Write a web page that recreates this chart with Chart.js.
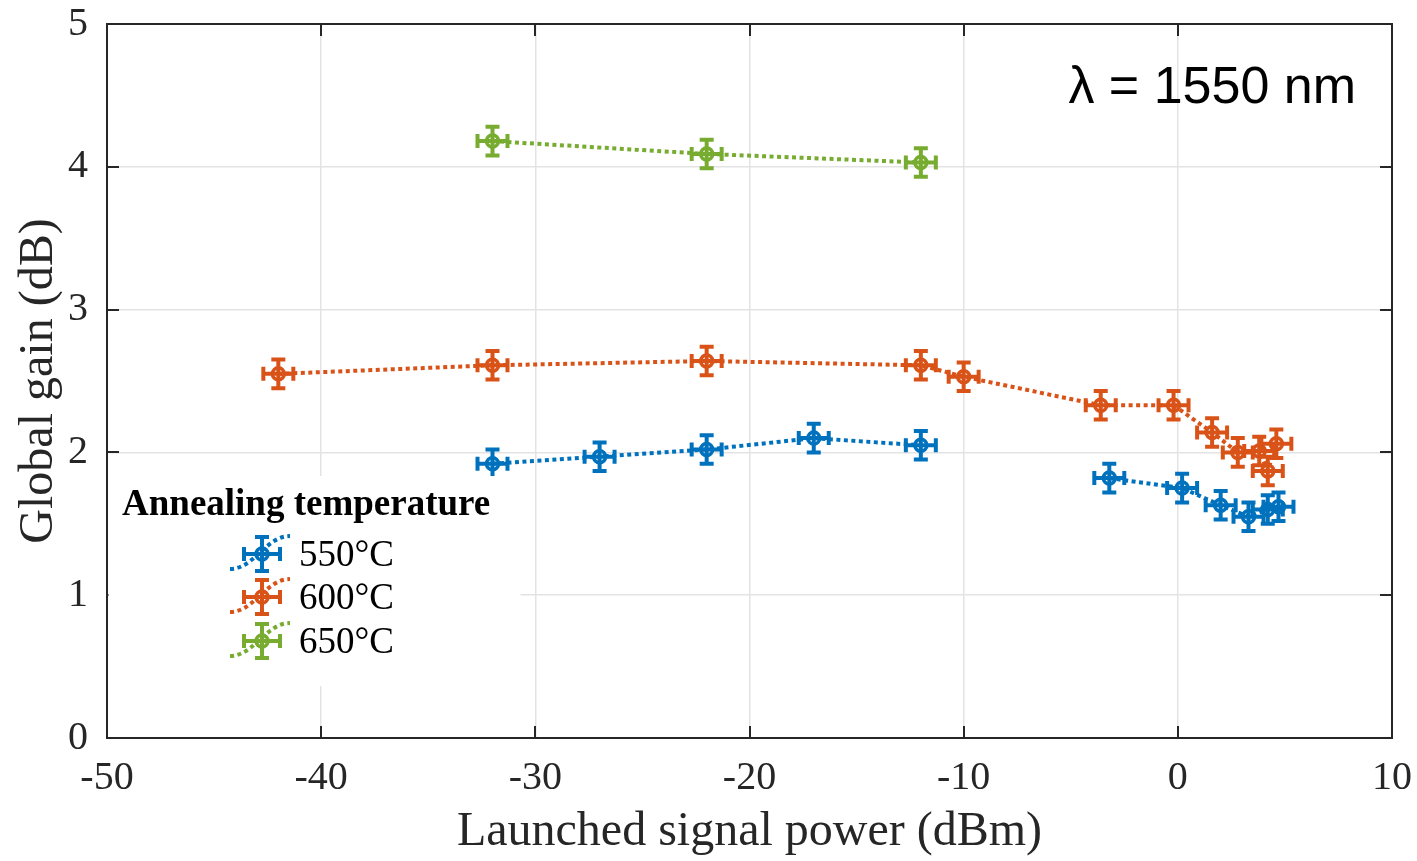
<!DOCTYPE html>
<html>
<head>
<meta charset="utf-8">
<script src="https://cdn.jsdelivr.net/npm/chart.js@4.4.1/dist/chart.umd.min.js"></script>
<style>
html,body{margin:0;padding:0;background:#fff;}
#wrap{width:1417px;height:861px;}
</style>
</head>
<body>
<div id="wrap"><canvas id="c" width="1417" height="861"></canvas></div>
<script>
// ---- data ----
const xTicks = [-50, -40, -30, -20, -10, 0, 10];
const yTicks = [0, 1, 2, 3, 4, 5];
const seriesLabels = ['550°C', '600°C', '650°C'];
const seriesColors = ['#0072BD', '#D95319', '#77AC30'];

const power550 = [-32, -27, -22, -17, -12, -3.2, 0.2, 2.0, 3.3, 4.2, 4.7];
const gain550  = [1.92, 1.97, 2.02, 2.10, 2.05, 1.82, 1.75, 1.63, 1.55, 1.60, 1.62];
const gaps550  = [4]; // no line drawn after this point index

const power600 = [-42, -32, -22, -12, -10, -3.6, -0.2, 1.6, 2.8, 3.8, 4.2, 4.6];
const gain600  = [2.55, 2.61, 2.64, 2.61, 2.53, 2.33, 2.33, 2.14, 2.00, 2.01, 1.87, 2.06];

const power650 = [-32, -22, -12];
const gain650  = [4.18, 4.09, 4.03];

const powerErr = 0.7;  // dBm
const gainErr  = 0.1;  // dB

const legendTitle = 'Annealing temperature';
const annotationText = 'λ = 1550 nm';
const xTitle = 'Launched signal power (dBm)';
const yTitle = 'Global gain (dB)';

// ---- build ----
function pts(xs, ys){ return xs.map((x,i)=>({x:x, y:ys[i]})); }
const allSeries = [
  {xs: power550, ys: gain550, gaps: gaps550},
  {xs: power600, ys: gain600, gaps: []},
  {xs: power650, ys: gain650, gaps: []}
];

const AXIS = '#262626';
const SERIF = "'Liberation Serif', 'Times New Roman', serif";

const datasets = allSeries.map((s, k) => ({
  label: seriesLabels[k],
  data: pts(s.xs, s.ys),
  borderColor: seriesColors[k],
  backgroundColor: seriesColors[k],
  borderWidth: 4,
  borderDash: [4, 3.5],
  pointRadius: 0,
  pointHoverRadius: 0,
  showLine: true,
  fill: false,
  tension: 0,
  segment: {
    borderColor: ctx => s.gaps.includes(ctx.p0DataIndex) ? 'rgba(0,0,0,0)' : undefined
  }
}));

function drawMarker(ctx, cx, cy, color, ex, ey, capHalf){
  ctx.save();
  ctx.strokeStyle = color;
  ctx.lineWidth = 4;
  ctx.setLineDash([]);
  ctx.lineCap = 'butt';
  ctx.beginPath();
  ctx.moveTo(cx, cy - ey); ctx.lineTo(cx, cy + ey);
  ctx.moveTo(cx - capHalf, cy - ey); ctx.lineTo(cx + capHalf, cy - ey);
  ctx.moveTo(cx - capHalf, cy + ey); ctx.lineTo(cx + capHalf, cy + ey);
  ctx.moveTo(cx - ex, cy); ctx.lineTo(cx + ex, cy);
  ctx.moveTo(cx - ex, cy - capHalf); ctx.lineTo(cx - ex, cy + capHalf);
  ctx.moveTo(cx + ex, cy - capHalf); ctx.lineTo(cx + ex, cy + capHalf);
  ctx.stroke();
  ctx.lineWidth = 3.5;
  ctx.beginPath();
  ctx.arc(cx, cy, 6, 0, Math.PI * 2);
  ctx.stroke();
  ctx.restore();
}

const errorBarPlugin = {
  id: 'errorBars',
  afterDatasetsDraw(chart){
    const ctx = chart.ctx;
    const xs = chart.scales.x, ys = chart.scales.y;
    const area = chart.chartArea;
    ctx.save();
    ctx.beginPath();
    ctx.rect(area.left, area.top, area.right - area.left, area.bottom - area.top);
    ctx.clip();
    chart.data.datasets.forEach((ds, k) => {
      ds.data.forEach(p => {
        const cx = xs.getPixelForValue(p.x);
        const cy = ys.getPixelForValue(p.y);
        const ex = Math.abs(xs.getPixelForValue(p.x + powerErr) - cx);
        const ey = Math.abs(ys.getPixelForValue(p.y + gainErr) - cy);
        drawMarker(ctx, cx, cy, seriesColors[k], ex, ey, 7);
      });
    });
    ctx.restore();
  }
};

const frameLegendPlugin = {
  id: 'frameLegend',
  afterDraw(chart){
    const ctx = chart.ctx;
    const a = chart.chartArea;
    const xs = chart.scales.x, ys = chart.scales.y;
    ctx.save();
    ctx.strokeStyle = AXIS;
    ctx.lineWidth = 2;
    ctx.beginPath();
    xs.ticks.forEach(t => {
      const px = Math.round(xs.getPixelForValue(t.value));
      ctx.moveTo(px, a.bottom); ctx.lineTo(px, a.bottom - 12);
      ctx.moveTo(px, a.top); ctx.lineTo(px, a.top + 12);
    });
    ys.ticks.forEach(t => {
      const py = Math.round(ys.getPixelForValue(t.value));
      ctx.moveTo(a.left, py); ctx.lineTo(a.left + 12, py);
      ctx.moveTo(a.right, py); ctx.lineTo(a.right - 12, py);
    });
    ctx.stroke();
    ctx.strokeRect(a.left, a.top, a.right - a.left, a.bottom - a.top);

    // legend
    const lx = a.left + 1.5, ly = 476, lw = 412, lh = 210;
    ctx.fillStyle = '#ffffff';
    ctx.fillRect(lx, ly, lw, lh);
    ctx.fillStyle = '#000000';
    ctx.font = "bold 37px " + SERIF;
    ctx.textAlign = 'left';
    ctx.textBaseline = 'alphabetic';
    ctx.fillText(legendTitle, 122, 515);
    const rowY = [554, 597, 641];
    chart.data.datasets.forEach((ds, k) => {
      const cx = 262, cy = rowY[k];
      const col = seriesColors[k];
      ctx.save();
      ctx.strokeStyle = col;
      ctx.lineWidth = 4;
      ctx.setLineDash([4, 3.5]);
      ctx.beginPath();
      ctx.moveTo(cx - 32, cy + 15);
      ctx.bezierCurveTo(cx - 8, cy + 15, cx + 4, cy - 18, cx + 28, cy - 18);
      ctx.stroke();
      ctx.restore();
      drawMarker(ctx, cx, cy, col, 18, 17, 7);
      ctx.fillStyle = '#000000';
      ctx.font = "37px " + SERIF;
      ctx.textBaseline = 'alphabetic';
      ctx.fillText(ds.label, 299, cy + 12);
    });

    ctx.fillStyle = '#000000';
    ctx.font = "52px 'Liberation Sans', Arial, sans-serif";
    ctx.textAlign = 'right';
    ctx.fillText(annotationText, 1356, 103);
    ctx.restore();
  }
};

new Chart(document.getElementById('c'), {
  type: 'line',
  data: { datasets },
  options: {
    responsive: false,
    devicePixelRatio: 1,
    animation: false,
    events: [],
    layout: { padding: { top: 24, right: 25, left: 0, bottom: 0 } },
    plugins: { legend: { display: false }, tooltip: { enabled: false } },
    scales: {
      x: {
        type: 'linear',
        min: -50, max: 10,
        afterBuildTicks: s => { s.ticks = xTicks.map(v => ({value: v})); },
        afterFit: s => { s.height = 123; s.paddingLeft = 0; s.paddingRight = 0; },
        grid: { color: '#e3e3e3', lineWidth: 1.5, drawTicks: false },
        border: { display: false },
        ticks: { color: AXIS, font: { family: SERIF, size: 40 }, padding: 16, maxRotation: 0, autoSkip: false },
        title: { display: true, text: xTitle, color: AXIS, font: { family: SERIF, size: 48 }, padding: { top: 0, bottom: 0 } }
      },
      y: {
        type: 'linear',
        min: 0, max: 5,
        afterBuildTicks: s => { s.ticks = yTicks.map(v => ({value: v})); },
        afterFit: s => { s.width = 107; s.paddingTop = 0; s.paddingBottom = 0; },
        grid: { color: '#e3e3e3', lineWidth: 1.5, drawTicks: false },
        border: { display: false },
        ticks: { color: AXIS, font: { family: SERIF, size: 40 }, padding: 19 },
        title: { display: true, text: yTitle, color: AXIS, font: { family: SERIF, size: 48 }, padding: { top: 11, bottom: 0 } }
      }
    }
  },
  plugins: [errorBarPlugin, frameLegendPlugin]
});
</script>
</body>
</html>
